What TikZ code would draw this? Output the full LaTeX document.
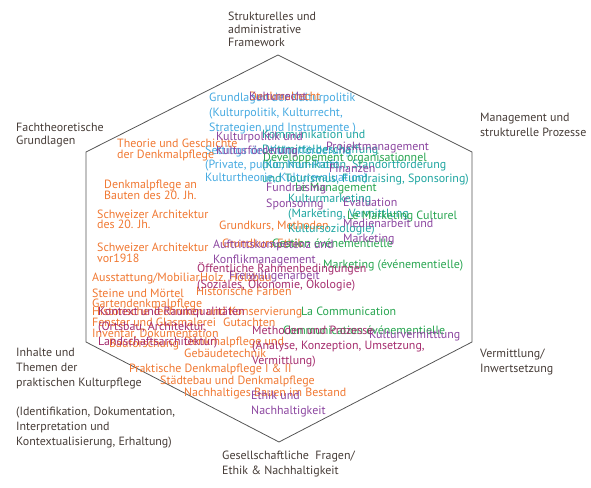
\documentclass[tikz,border=0pt]{standalone}
\usepackage{fontspec}
\setmainfont{PT Sans}
\definecolor{dk}{RGB}{70,60,55}
\definecolor{hx}{RGB}{85,85,85}
\definecolor{orc}{RGB}{240,120,50}
\definecolor{blc}{RGB}{70,170,225}
\definecolor{puc}{RGB}{140,70,160}
\definecolor{tec}{RGB}{30,165,160}
\definecolor{grc}{RGB}{40,165,80}
\definecolor{mac}{RGB}{165,45,110}
\newcommand\fz[1]{\fontsize{12}{#1}\selectfont}
\begin{document}
\begin{tikzpicture}[x=1bp,y=-1bp,
  every node/.style={anchor=base west, inner sep=0pt, align=left, font=\fz{15}},
  ls/.style={font=\fz{#1}}, ls/.default=15,
  outer/.style={text=dk},
  org/.style={text=orc}, blu/.style={text=blc}, pur/.style={text=puc},
  tea/.style={text=tec}, grn/.style={text=grc}, mar/.style={text=mac}]
\useasboundingbox (0,0) rectangle (591,488);
% hexagon
\draw[hx, line width=0.8bp] (278,55) -- (472,152) -- (472,342) -- (279,442) -- (86,342) -- (86,152) -- cycle;
% outer labels (anchor = baseline of last line)
\node[outer, ls=13.5] (o1) at (228,47) {Strukturelles und\\administrative\\Framework};
\node[outer, ls=14] (o2) at (16,145) {Fachtheoretische\\Grundlagen};
\node[outer, ls=15.5] (o3) at (480,136.5) {Management und\\strukturelle Prozesse};
\node[outer, ls=15] (o4) at (16,386) {Inhalte und\\Themen der\\praktischen Kulturpflege};
\node[outer, ls=15] (o5) at (16,445) {(Identifikation, Dokumentation,\\Interpretation und\\Kontextualisierung, Erhaltung)};
\node[outer, ls=15] (o6) at (480,372) {Vermittlung/\\Inwertsetzung};
\node[outer, ls=15.5] (o7) at (222,474.5) {Gesellschaftliche\ \ Fragen/\\Ethik \& Nachhaltigkeit};
% blue
\node[blu, ls=15.5] (b1) at (209,132) {Grundlagen der Kulturpolitik\\(Kulturpolitik, Kulturrecht,\\Strategien und Instrumente )};
\node[blu, ls=14] (b2) at (205,182) {Settings der Kulturförderung\\(Private, public, Non-Profit,\\Kulturtheorie, Kulturevaluation)};
% orange
\node[org] (r1) at (249,101) {Denkmalrecht};
\node[org, ls=11.5] (r2) at (117,158.5) {Theorie und Geschichte\\der Denkmalpflege};
\node[org, ls=11.5] (r3) at (104,199.5) {Denkmalpflege an\\Bauten des 20. Jh.};
\node[org, ls=11] (r4) at (97,229) {Schweizer Architektur\\des 20. Jh.};
\node[org, ls=11] (r5) at (97,262) {Schweizer Architektur\\vor1918};
\node[org] (r6) at (219,230) {Grundkurs, Methoden};
\node[org] (r7) at (222,247) {Grundkurs Ethik};
\node[org] (r8) at (92,281) {Ausstattung/Mobiliar};
\node[org] (r9) at (200,281) {Holz, Holzbau};
\node[org] (r10) at (92,297) {Steine und Mörtel};
\node[org] (r11) at (196,295) {Historische Farben};
\node[org] (r12) at (92,307) {Gartendenkmalpflege};
\node[org] (r13) at (92,315) {Historische Techniken und Konservierung};
\node[org] (r14) at (92,326) {Fenster und Glasmalerei};
\node[org] (r15) at (223,326) {Gutachten};
\node[org] (r16) at (92,337) {Inventar, Dokumentation};
\node[org] (r17) at (109,347) {Bauforschung};
\node[org, ls=10.5] (r18) at (184,357.5) {Denkmalpflege und\\Gebäudetechnik};
\node[org] (r19) at (129,372) {Praktische Denkmalpflege I \& II};
\node[org] (r20) at (160,384) {Städtebau und Denkmalpflege};
\node[org] (r21) at (184,396) {Nachhaltiges Bauen im Bestand};
% teal
\node[tea, ls=15] (t1) at (262,183) {Kommunikation und\\Drittmittelbeschaffung\\(Kommunikation, Standortförderung\\und Tourismus, Fundraising, Sponsoring)};
\node[tea, ls=15.5] (t2) at (288,233) {Kulturmarketing\\(Marketing, Vermittlung\\Kultursoziologie)};
% green
\node[grn] (g1) at (263,162) {Développement organisationnel};
\node[grn] (g2) at (295,192) {Le Management};
\node[grn] (g3) at (347,220) {Le Marketing Culturel};
\node[grn] (g4) at (272,247) {Gestion événementielle};
\node[grn] (g5) at (323,268) {Marketing (événementielle)};
\node[grn] (g6) at (301,315) {La Communication};
\node[grn] (g7) at (283,334) {Communication événementielle};
% purple
\node[pur] (p1) at (249,101) {Kulturrecht};
\node[pur, ls=15] (p2) at (216,155) {Kulturpolitik und\\Kulturförderung};
\node[pur] (p3) at (326,151) {Projektmanagement};
\node[pur] (p4) at (329,173) {Finanzen};
\node[pur] (p5) at (266,192) {Fundraising};
\node[pur] (p6) at (266,208) {Sponsoring};
\node[pur] (p7) at (343,207) {Evaluation};
\node[pur, ls=15] (p8) at (343,242) {Medienarbeit und\\Marketing};
\node[pur, ls=15] (p9) at (213,263) {Auftrittskompetenz und\\Konflikmanagement};
\node[pur] (p10) at (229,279) {Freiwilligenarbeit};
\node[pur] (p11) at (369,338) {Kulturvermittlung};
\node[pur, ls=15] (p12) at (251,414) {Ethik und\\Nachhaltigkeit};
% maroon
\node[mar, ls=16] (m1) at (197,288) {Öffentliche Rahmenbedingungen\\(Soziales, Ökonomie, Ökologie)};
\node[mar, ls=15] (m2) at (252,364) {Methoden und Prozesse\\(Analyse, Konzeption, Umsetzung,\\Vermittlung)};
\node[mar, ls=15] (m3) at (98,345) {Kontext und Raumqualitäten\\(Ortsbau, Architektur,\\Landschaftsarchitektur)};
\end{tikzpicture}
\end{document}
